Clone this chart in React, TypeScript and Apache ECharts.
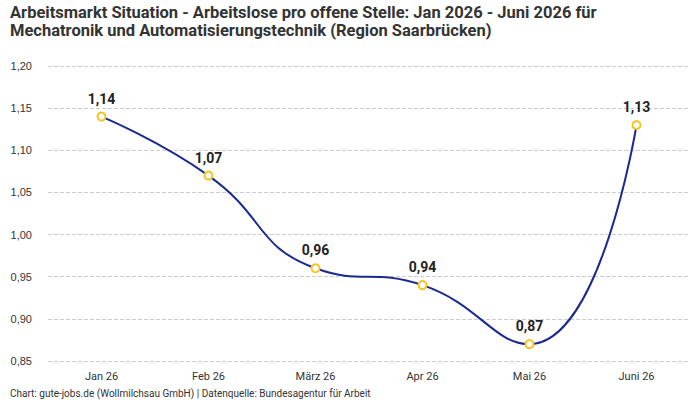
import React, { useEffect, useRef } from "react";
import * as echarts from "echarts";

const categories = ["Jan 26", "Feb 26", "März 26", "Apr 26", "Mai 26", "Juni 26"];
const values = [1.14, 1.07, 0.96, 0.94, 0.87, 1.13];
const titleText = "Arbeitsmarkt Situation - Arbeitslose pro offene Stelle: Jan 2026 - Juni 2026 für\nMechatronik und Automatisierungstechnik (Region Saarbrücken)";
const footerText = "Chart: gute-jobs.de (Wollmilchsau GmbH) | Datenquelle: Bundesagentur für Arbeit";

const fmt = (v: number) => v.toFixed(2).replace(".", ",");
const FONT = "Roboto";

export default function App() {
  const ref = useRef<HTMLDivElement>(null);
  useEffect(() => {
    if (!ref.current) return;
    const chart = echarts.init(ref.current, undefined, { renderer: "svg" });
    chart.setOption({
      animation: false,
      backgroundColor: "#ffffff",
      title: {
        text: titleText,
        left: 10,
        top: 3,
        padding: 0,
        textStyle: { fontFamily: FONT, fontSize: 16.5, fontWeight: "bold", color: "#333333", lineHeight: 18 },
      },
      graphic: [
        {
          type: "text",
          left: 10,
          top: 388,
          style: { text: footerText, fontFamily: FONT, fontSize: 10, fill: "#333333" },
        },
      ],
      grid: { left: 48, right: 10, top: 66, bottom: 39 },
      xAxis: {
        type: "category",
        data: categories,
        boundaryGap: true,
        axisLine: { show: false },
        axisTick: { show: false },
        axisLabel: { fontFamily: FONT, fontSize: 11, color: "#333333", margin: 10 },
      },
      yAxis: {
        type: "value",
        min: 0.85,
        max: 1.2,
        interval: 0.05,
        axisLine: { show: false },
        axisTick: { show: false },
        axisLabel: { fontFamily: "Liberation Sans", fontSize: 11, color: "#333333", margin: 16, formatter: (v: number) => fmt(v) },
        splitLine: { lineStyle: { type: "dashed", color: "#cccccc" } },
      },
      series: [
        {
          type: "line",
          data: values,
          smooth: true,
          symbol: "emptyCircle",
          symbolSize: 8,
          showSymbol: true,
          lineStyle: { color: "#1b2a8f", width: 2 },
          itemStyle: { color: "#f6c423", borderColor: "#f6c423", borderWidth: 2 },
          label: {
            show: true,
            position: "top",
            distance: 6,
            formatter: (p: any) => fmt(p.value),
            fontFamily: FONT,
            fontSize: 14,
            fontWeight: "bold",
            color: "#222222",
          },
        },
      ],
    });
    return () => chart.dispose();
  }, []);
  return <div ref={ref} style={{ position: "absolute", left: 0, top: 0, width: 700, height: 400 }} />;
}
